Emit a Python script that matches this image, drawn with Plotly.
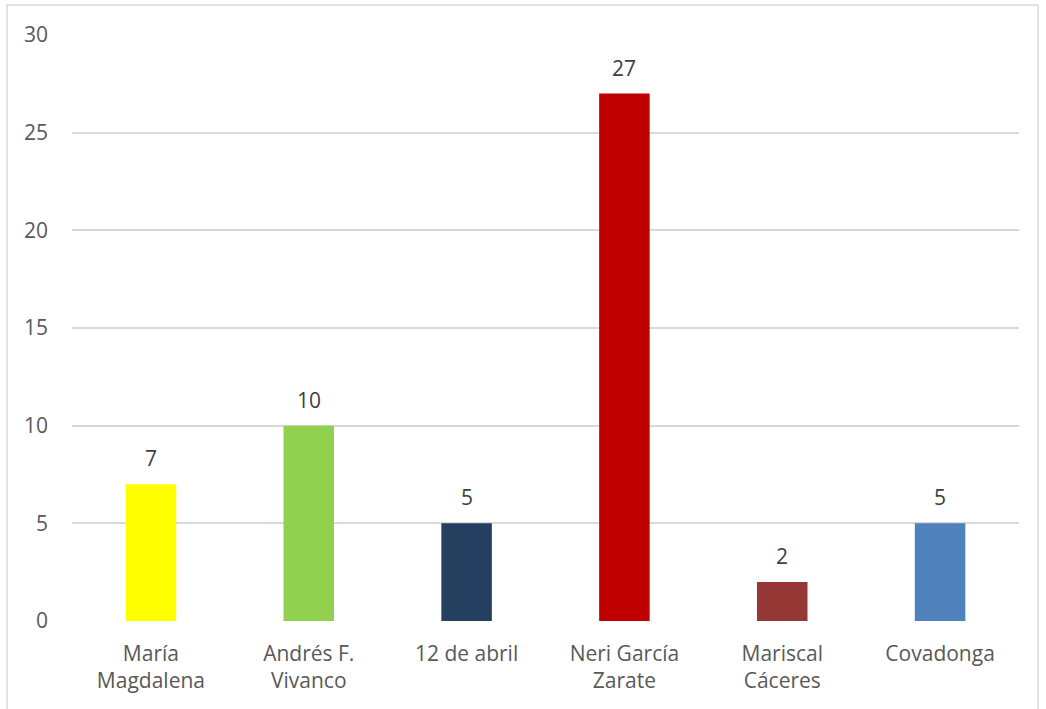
import plotly.graph_objects as go

categories = ["María<br>Magdalena", "Andrés F.<br>Vivanco", "12 de abril",
              "Neri García<br>Zarate", "Mariscal<br>Cáceres", "Covadonga"]
values = [7, 10, 5, 27, 2, 5]
bar_colors = ["#FFFF00", "#92D050", "#243F60", "#C00000", "#953735", "#4F81BD"]
y_ticks = [0, 5, 10, 15, 20, 25, 30]

FONT = "Open Sans"
FS = 21
W, H = 1046, 709
ml, mr, mt, mb = 72, 27, 35, 88
pw, ph = W - ml - mr, H - mt - mb

fig = go.Figure(go.Bar(
    x=categories, y=values,
    marker=dict(color=bar_colors, line=dict(width=0)),
    width=0.32,
    hoverinfo="skip",
))

for c, v in zip(categories, values):
    fig.add_annotation(x=c, y=v, text=str(v), showarrow=False,
                       yanchor="bottom", yshift=10,
                       font=dict(family=FONT, size=FS, color="#404040"))

# light frame around the chart area
fig.add_shape(type="rect", xref="paper", yref="paper",
              x0=(7 - ml) / pw, x1=(1038 - ml) / pw,
              y0=-0.3, y1=1 + (mt - 5) / ph,
              line=dict(color="#D9D9D9", width=1.5), fillcolor="rgba(0,0,0,0)",
              layer="below")

fig.update_layout(
    width=W, height=H,
    margin=dict(l=ml, r=mr, t=mt, b=mb),
    paper_bgcolor="white", plot_bgcolor="white",
    showlegend=False,
    font=dict(family=FONT, size=FS, color="#595959"),
    xaxis=dict(showgrid=False, zeroline=False, showline=False, ticks="",
               ticklabelstandoff=18,
               tickfont=dict(family=FONT, size=FS, color="#595959")),
    yaxis=dict(range=[0, 30], tickvals=y_ticks, showgrid=True,
               gridcolor="#D9D9D9", gridwidth=1.5, zeroline=False,
               showline=False, ticks="", ticklabelstandoff=23,
               tickfont=dict(family=FONT, size=FS, color="#595959")),
)

fig.write_html("out.html")
